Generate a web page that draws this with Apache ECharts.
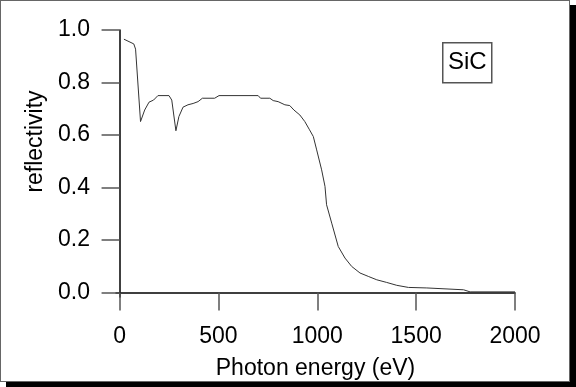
<!DOCTYPE html>
<html>
<head>
<meta charset="utf-8">
<script src="https://cdn.jsdelivr.net/npm/echarts@6/dist/echarts.min.js"></script>
<style>
  html, body { margin: 0; padding: 0; background: #fff; }
  #frame {
    position: absolute; left: 0; top: 0;
    width: 568px; height: 380px;
    border: 1px solid #666;
    box-shadow: 6px 5px 0 #000;
    background: #fff;
  }
  #chart { position: absolute; left: 0; top: 0; width: 576px; height: 387px; }
</style>
</head>
<body>
<div id="frame"></div>
<div id="chart"></div>
<script>
// photon energy (eV) and reflectivity
const energy = [22, 72, 81, 106, 127, 149, 172, 194, 250, 264, 285, 300, 321, 346, 372, 397, 419, 481, 503,
  701, 713, 760, 777, 802, 836, 861, 882, 912, 937, 959, 980, 997, 1022, 1039, 1047, 1073, 1106, 1140,
  1174, 1216, 1258, 1301, 1351, 1402, 1461, 1554, 1562, 1740, 1773, 2000];
const reflectivity = [0.965, 0.947, 0.927, 0.651, 0.695, 0.725, 0.733, 0.75, 0.75, 0.733, 0.616, 0.67, 0.706, 0.715,
  0.72, 0.727, 0.74, 0.74, 0.75, 0.75, 0.74, 0.74, 0.731, 0.727, 0.715, 0.712, 0.695, 0.676, 0.651, 0.622,
  0.594, 0.543, 0.467, 0.404, 0.334, 0.264, 0.175, 0.131, 0.099, 0.074, 0.061, 0.048, 0.038, 0.027, 0.019,
  0.017, 0.010, 0.010, 0.002, 0.002];
const xTicks = [0, 500, 1000, 1500, 2000];
const yTicks = [0, 0.2, 0.4, 0.6, 0.8, 1.0];

const font = 'Liberation Sans, Arial, sans-serif';
const chart = echarts.init(document.getElementById('chart'));

const option = {
  animation: false,
  grid: { left: 116, right: 61, top: 30, bottom: 90 },
  xAxis: {
    type: 'value',
    min: -18,
    max: 2000,
    name: 'Photon energy (eV)',
    nameLocation: 'middle',
    nameGap: 60,
    nameTextStyle: { fontFamily: font, fontSize: 23, color: '#000' },
    axisLine: { lineStyle: { color: '#000', width: 1.5 } },
    axisTick: { show: true, length: 18, customValues: xTicks, lineStyle: { color: '#555', width: 1.5 } },
    axisLabel: {
      customValues: xTicks,
      margin: 28,
      fontFamily: font, fontSize: 23, color: '#000',
      formatter: v => String(v)
    },
    splitLine: { show: false }
  },
  yAxis: {
    type: 'value',
    min: -0.0175,
    max: 1.0,
    name: 'reflectivity',
    nameLocation: 'middle',
    nameGap: 67,
    nameTextStyle: { fontFamily: font, fontSize: 23, color: '#000', padding: [0, 0, 0, 44] },
    axisLine: { show: true, lineStyle: { color: '#000', width: 1.5 } },
    axisTick: { show: true, length: 18, customValues: yTicks, lineStyle: { color: '#555', width: 1.5 } },
    axisLabel: {
      customValues: yTicks,
      margin: 26,
      fontFamily: font, fontSize: 23, color: '#000',
      formatter: v => v.toFixed(1)
    },
    splitLine: { show: false }
  },
  graphic: [
    {
      type: 'group', left: 442, top: 42,
      children: [
        { type: 'rect', shape: { x: 0, y: 0, width: 49, height: 40 },
          style: { fill: '#fff', stroke: '#555', lineWidth: 1.5 } },
        { type: 'text', x: 24.5, y: 20,
          style: { text: 'SiC', font: '24px ' + font, fill: '#000', align: 'center', verticalAlign: 'middle' } }
      ]
    }
  ],
  series: [
    {
      type: 'line',
      data: energy.map((e, i) => [e, reflectivity[i]]),
      showSymbol: false,
      lineStyle: { color: '#333', width: 1 }
    }
  ]
};

chart.setOption(option);
</script>
</body>
</html>
